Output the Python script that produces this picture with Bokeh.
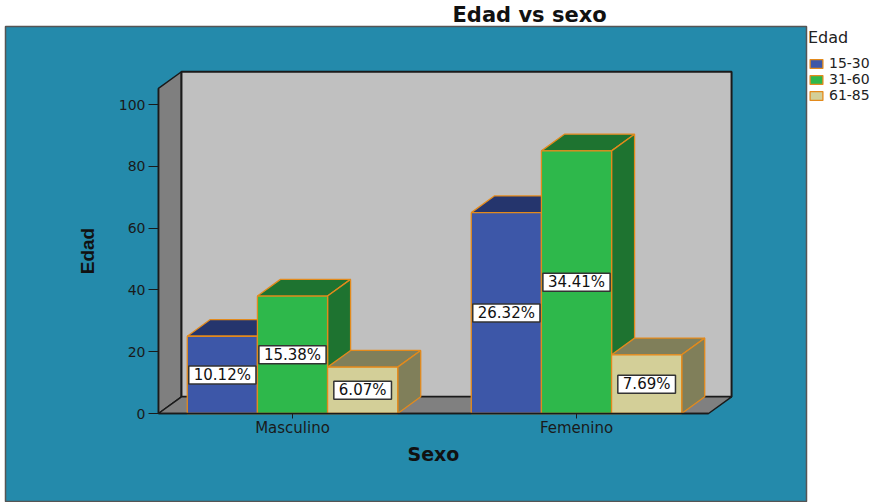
from bokeh.plotting import figure
from bokeh.models import Range1d, FixedTicker, Legend, LegendItem, ColumnDataSource
from bokeh.embed import file_html
from bokeh.resources import INLINE
from bokeh.core.properties import value

# ---- data ----
categories = ["Masculino", "Femenino"]
age_groups = ["15-30", "31-60", "61-85"]
counts_15_30 = [25, 65]
counts_31_60 = [38, 85]
counts_61_85 = [15, 19]
pct_15_30 = ["10.12%", "26.32%"]
pct_31_60 = ["15.38%", "34.41%"]
pct_61_85 = ["6.07%", "7.69%"]
y_ticks = [0, 20, 40, 60, 80, 100]

series_counts = [counts_15_30, counts_31_60, counts_61_85]
series_pcts = [pct_15_30, pct_31_60, pct_61_85]

# ---- styling ----
front_colors = ["#3d57a8", "#2eb84b", "#d3cf98"]
shade_colors = ["#25356d", "#1e7330", "#807f5a"]
EDGE = "#e38a1c"
TEAL = "#248aab"
FONT = "DejaVu Sans"

BAR_W = 0.247
DX = 0.081
DY = 5.4
WALL_X0 = 0.528
WALL_X1 = 2.465
WALL_TOP = 105.2

LEFT_PAD = 5
TOP_PAD = 26
PX_PER_X = 284.0
PX_PER_Y = 3.09
FRAME_W = 801
FRAME_H = 476
X_LEFT = 1 - (292 - LEFT_PAD) / PX_PER_X
Y_TOP = (413 - TOP_PAD) / PX_PER_Y
Y_BOT = Y_TOP - FRAME_H / PX_PER_Y

p = figure(frame_width=FRAME_W, frame_height=FRAME_H,
           x_range=Range1d(X_LEFT, X_LEFT + FRAME_W / PX_PER_X), y_range=Range1d(Y_BOT, Y_TOP),
           output_backend="svg", toolbar_location=None,
           min_border_left=LEFT_PAD, min_border_right=0, min_border_top=TOP_PAD, min_border_bottom=0,
           background_fill_color=TEAL, border_fill_color="white",
           title="Edad vs sexo")
p.outline_line_color = "#555555"
p.outline_line_width = 1.5
p.xgrid.visible = False
p.ygrid.visible = False

p.title.text_font = FONT
p.title.text_font_size = "21px"
p.title.text_font_style = "bold"
p.title.text_color = "#111111"
p.title.align = "left"
p.title.offset = 447
p.title.standoff = 0

# ---- 3D walls ----
p.patch([WALL_X0, WALL_X0 + DX, WALL_X0 + DX, WALL_X0],
        [0, DY, WALL_TOP + DY, WALL_TOP],
        fill_color="#7f7f7f", line_color="#1a1a1a", line_width=1.5)
p.quad(left=[WALL_X0 + DX], right=[WALL_X1 + DX], bottom=[DY], top=[WALL_TOP + DY],
       fill_color="#c0c0c0", line_color="#1a1a1a", line_width=2)
p.patch([WALL_X0, WALL_X1, WALL_X1 + DX, WALL_X0 + DX],
        [0, 0, DY, DY],
        fill_color="#808080", line_color="#1a1a1a", line_width=1.5)

# ---- bars ----
legend_items = []
for i, (grp, counts) in enumerate(zip(age_groups, series_counts)):
    off = (i - 1) * BAR_W
    lefts = [j + 1 + off - BAR_W / 2 for j in range(len(categories))]
    rights = [l + BAR_W for l in lefts]
    xs, ys = [], []
    for l, r, t in zip(lefts, rights, counts):
        xs.append([l, r, r + DX, l + DX])
        ys.append([t, t, t + DY, t + DY])
        xs.append([r, r + DX, r + DX, r])
        ys.append([0, DY, t + DY, t])
    p.patches(xs, ys, fill_color=shade_colors[i], line_color=EDGE, line_width=1.3)
    src = ColumnDataSource(dict(left=lefts, right=rights, top=counts, bottom=[0] * len(counts)))
    r = p.quad(left="left", right="right", top="top", bottom="bottom", source=src,
               fill_color=front_colors[i], line_color=EDGE, line_width=1.3)
    legend_items.append(LegendItem(label=grp, renderers=[r]))

# ---- value labels ----
for i, (counts, pcts) in enumerate(zip(series_counts, series_pcts)):
    off = (i - 1) * BAR_W
    src = ColumnDataSource(dict(x=[j + 1 + off for j in range(len(categories))],
                                y=[c / 2 for c in counts], t=pcts))
    p.text(x="x", y="y", text="t", source=src, text_align="center", text_baseline="middle",
           text_font=value(FONT), text_font_size="15px", text_color="#111111",
           background_fill_color="white", border_line_color="#333333", border_line_width=1.5,
           padding=(5, 0))

# ---- axes ----
xa = p.xaxis[0]
xa.fixed_location = 0
xa.ticker = FixedTicker(ticks=[1, 2])
xa.major_label_overrides = {1: categories[0], 2: categories[1]}
xa.bounds = (WALL_X0, WALL_X1)
xa.axis_line_color = "#1a1a1a"
xa.axis_line_width = 1.5
xa.major_tick_out = 5
xa.major_tick_in = 0
xa.major_tick_line_color = "#1a1a1a"
xa.minor_tick_line_color = None
xa.major_label_text_font = FONT
xa.major_label_text_font_size = "15px"
xa.major_label_text_color = "#1a1a1a"
xa.major_label_standoff = 0
xa.axis_label = "Sexo"
xa.axis_label_text_font = FONT
xa.axis_label_text_font_size = "19px"
xa.axis_label_text_font_style = "bold"
xa.axis_label_text_color = "#111111"
xa.axis_label_standoff = 3

ya = p.yaxis[0]
ya.fixed_location = WALL_X0
ya.ticker = FixedTicker(ticks=y_ticks)
ya.bounds = (0, WALL_TOP)
ya.axis_line_color = "#1a1a1a"
ya.axis_line_width = 1.5
ya.major_tick_out = 10
ya.major_tick_in = 0
ya.major_tick_line_color = "#1a1a1a"
ya.minor_tick_line_color = None
ya.major_label_text_font = FONT
ya.major_label_text_font_size = "14px"
ya.major_label_text_color = "#1a1a1a"
ya.major_label_standoff = 3
ya.axis_label = "Edad"
ya.axis_label_text_font = "Liberation Sans"
ya.axis_label_text_font_size = "19px"
ya.axis_label_text_font_style = "bold"
ya.axis_label_text_color = "#111111"
ya.axis_label_standoff = 18

# ---- legend ----
legend = Legend(items=legend_items, title="Edad", location="top_left",
                title_text_font=FONT, title_text_font_size="16px", title_text_color="#222222",
                title_text_font_style="normal",
                label_text_font=FONT, label_text_font_size="14px", label_text_color="#222222",
                glyph_width=16, glyph_height=11, label_height=12, label_standoff=5,
                spacing=0, padding=3, margin=2, border_line_color=None,
                background_fill_color="white", title_standoff=8)
p.add_layout(legend, "right")

open("out.html", "w").write(file_html(p, INLINE))
